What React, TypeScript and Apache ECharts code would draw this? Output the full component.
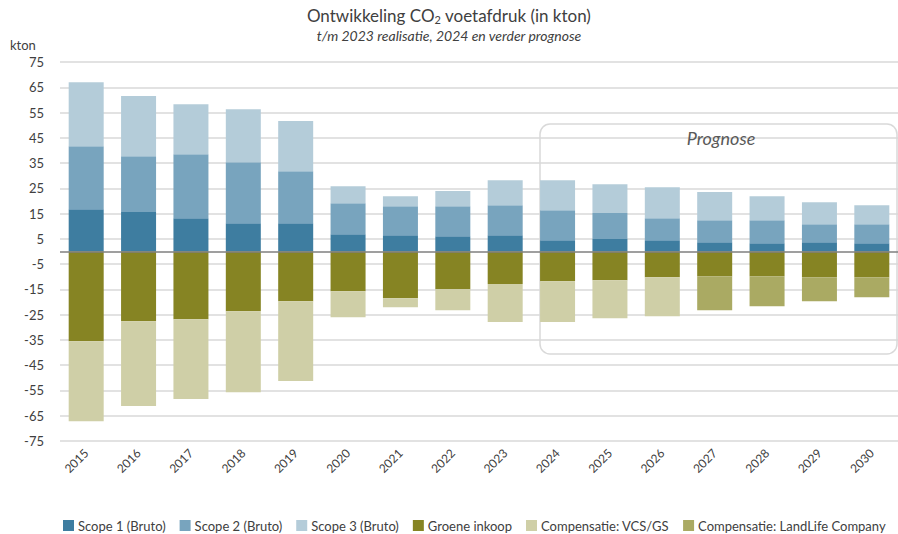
import React, { useEffect, useRef } from "react";
import * as echarts from "echarts";

const years = ["2015","2016","2017","2018","2019","2020","2021","2022","2023","2024","2025","2026","2027","2028","2029","2030"];
const scope1 = [16.7,15.6,13.2,11.2,11.2,6.8,6.4,6.0,6.4,4.5,4.9,4.5,3.7,3.3,3.7,3.3];
const scope2 = [25.0,22.1,25.3,24.1,20.6,12.3,11.5,11.9,11.9,11.8,10.3,8.7,8.7,9.1,7.1,7.5];
const scope3 = [25.3,23.8,19.8,21.0,19.8,6.7,4.0,6.0,9.9,11.9,11.4,12.2,11.1,9.5,8.7,7.5];
const groene = [-35.5,-27.6,-26.8,-23.6,-19.7,-15.7,-18.5,-14.9,-12.9,-11.8,-11.4,-10.2,-9.8,-9.8,-10.2,-10.2];
const vcs = [-31.7,-33.5,-31.6,-32.1,-31.6,-10.3,-3.6,-8.4,-15.0,-16.1,-15.0,-15.4,null,null,null,null];
const landlife = [null,null,null,null,null,null,null,null,null,null,null,null,-13.5,-11.9,-9.5,-7.9];

const seriesNames = ["Scope 1 (Bruto)","Scope 2 (Bruto)","Scope 3 (Bruto)","Groene inkoop","Compensatie: VCS/GS","Compensatie: LandLife Company"];
const colors = ["#3E7DA0","#78A4BE","#B4CCD9","#868423","#CFCFA7","#AAAA63"];
const FONT = "Lato, 'Open Sans', sans-serif";

export default function App() {
  const ref = useRef<HTMLDivElement>(null);
  useEffect(() => {
    if (!ref.current) return;
    const chart = echarts.init(ref.current, undefined, { renderer: "svg" });
    const dataSets = [scope1, scope2, scope3, groene, vcs, landlife];
    const series: any[] = dataSets.map((d, i) => ({
      name: seriesNames[i],
      type: "bar",
      stack: "total",
      data: d,
      barWidth: 35,
      itemStyle: { color: colors[i] },
      z: 3,
    }));
    series[0].markLine = {
      silent: true,
      symbol: "none",
      label: { show: false },
      lineStyle: { color: "#7f7f7f", width: 1.5, type: "solid" },
      data: [{ yAxis: 0 }],
      z: 5,
    };
    chart.setOption({
      animation: false,
      textStyle: { fontFamily: FONT },
      title: [
        {
          text: "Ontwikkeling CO{sub|2} voetafdruk (in kton)",
          left: "center",
          top: 5,
          padding: 0,
          textStyle: {
            fontFamily: FONT,
            fontSize: 17,
            fontWeight: "normal",
            color: "#404040",
            rich: { sub: { fontSize: 11, padding: [9, 0, 0, 0], color: "#404040", fontFamily: FONT } },
          },
        },
        {
          text: "t/m 2023 realisatie, 2024 en verder prognose",
          left: "center",
          top: 28,
          padding: 0,
          textStyle: { fontFamily: FONT, fontSize: 14, fontStyle: "italic", fontWeight: "normal", color: "#404040" },
        },
      ],
      legend: {
        left: 63,
        top: 519,
        padding: 0,
        itemWidth: 11,
        itemHeight: 11,
        itemGap: 14,
        icon: "rect",
        textStyle: { fontFamily: FONT, fontSize: 13, color: "#404040", padding: [0, 0, 0, -1] },
        data: seriesNames,
      },
      grid: { left: 60, right: -11, top: 62, bottom: 93 },
      xAxis: {
        type: "category",
        data: years,
        axisLine: { show: false, onZero: false },
        axisTick: { show: false },
        axisLabel: { rotate: 45, fontSize: 12, color: "#404040", fontFamily: FONT, margin: 10 },
      },
      yAxis: {
        type: "value",
        min: -75,
        max: 75,
        interval: 10,
        axisLine: { show: false },
        axisTick: { show: false },
        axisLabel: { fontSize: 13, color: "#404040", fontFamily: FONT, margin: 16 },
        splitLine: { lineStyle: { color: "#d9d9d9", width: 1.5 } },
      },
      graphic: [
        {
          type: "text",
          x: 10,
          y: 45,
          style: { text: "kton", fontFamily: FONT, fontSize: 13, fill: "#404040", align: "left", verticalAlign: "middle" },
        },
        {
          type: "rect",
          z: 1,
          shape: { x: 540, y: 124, width: 357, height: 230, r: 10 },
          style: { fill: "none", stroke: "#d9d9d9", lineWidth: 1.5 },
        },
        {
          type: "text",
          z: 10,
          x: 721,
          y: 138,
          style: {
            text: "Prognose",
            fontFamily: FONT,
            fontSize: 18,
            fontStyle: "italic",
            fill: "#595959",
            align: "center",
            verticalAlign: "middle",
          },
        },
      ],
      series,
    });
    return () => chart.dispose();
  }, []);
  return <div ref={ref} style={{ width: 898, height: 534, position: "absolute", left: 0, top: 0 }} />;
}
